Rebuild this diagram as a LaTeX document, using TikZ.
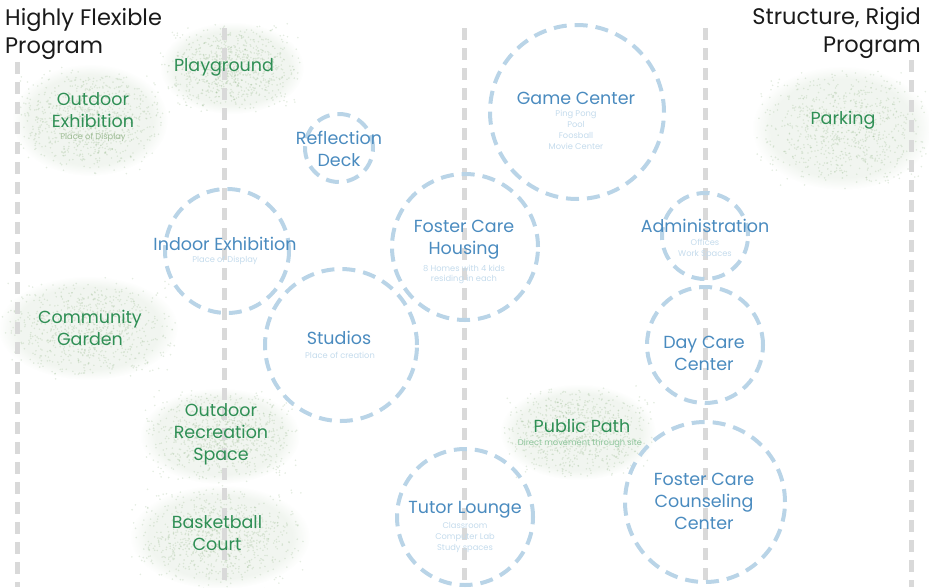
\documentclass[tikz,border=0pt]{standalone}
\usepackage{fontspec}
\setmainfont{Poppins}
\usetikzlibrary{fadings}
\definecolor{ringc}{HTML}{B9D4E7}
\definecolor{bluet}{HTML}{4A8BBF}
\definecolor{subt}{HTML}{C4DBEC}
\definecolor{greent}{HTML}{2F8F55}
\definecolor{gsubt}{HTML}{8CC49A}
\definecolor{blobc}{HTML}{9DBB94}
\definecolor{guidec}{HTML}{D9D9D9}
\definecolor{ttlc}{HTML}{1A1A1A}
\tikzset{
  guide/.style={guidec,line width=5pt,dash pattern=on 12pt off 8pt},
  zone/.style={circle,draw=ringc,line width=4pt,dash pattern=on 13pt off 8pt,inner sep=0pt},
  lbl/.style={font=\fontsize{17.5}{22}\selectfont,text=bluet,align=center,inner sep=0pt},
  glbl/.style={lbl,text=greent},
  sub/.style={font=\fontsize{8.3}{11}\selectfont,text=subt,align=center,inner sep=0pt},
  gsub/.style={sub,text=gsubt},
  ttl/.style={font=\fontsize{22.5}{28}\selectfont,text=ttlc,inner sep=0pt}
}
% fuzzy green patch: centre x, centre y, half width, half height
\newcommand{\fuzz}[4]{%
  \fill[blobc,opacity=.14,path fading=circle with fuzzy edge 20 percent] (#1,#2) ellipse ({#3} and {#4});
  \foreach \i in {1,...,900}{
    \pgfmathsetmacro{\px}{#1+#3*(0.55*rand+0.45*rand)}
    \pgfmathsetmacro{\py}{#2+#4*(0.55*rand+0.45*rand)}
    \fill[blobc,opacity=.28] (\px,\py) circle (0.9);}}

\begin{document}
\begin{tikzpicture}[x=1pt,y=-1pt]
\useasboundingbox (0,0) rectangle (929,587);
\pgfmathsetseed{7}
\fuzz{90}{120}{78}{56}
\fuzz{232}{68}{72}{46}
\fuzz{88}{328}{90}{52}
\fuzz{220}{436}{80}{48}
\fuzz{220}{537}{90}{52}
\fuzz{578}{432}{78}{48}
\fuzz{842}{128}{90}{62}
% programme axis
\foreach \x/\ya in {17/62,224/28,464/28,705/28,911/60}{\draw[guide] (\x,\ya)--(\x,587);}
% dashed zones
\foreach \n/\x/\y/\r in {game/577/112/87,deck/339/148/34,indoor/227/251/62,housing/465/247/73,
  admin/705/236/43,studio/341/345/76,daycare/705/345/58,counsel/705/502/80,tutor/465/517/68}{
  \node[zone,minimum size={2*\r pt}] (\n) at (\x,\y) {};}
% titles
\node[ttl,anchor=west,align=left] (flex) at (5,34) {Highly Flexible\\Program};
\node[ttl,anchor=east,align=right] (rigid) at (921,32.5) {Structure, Rigid\\Program};
% zone labels
\node[lbl] (gameT) at (576,98) {Game Center};
\node[sub] (gameS) at (576,130) {Ping Pong\\Pool\\Foosball\\Movie Center};
\node[lbl] (deckT) at (339,149) {Reflection\\Deck};
\node[lbl] (indoorT) at (225,244) {Indoor Exhibition};
\node[sub] (indoorS) at (225,260) {Place of Display};
\node[lbl] (housingT) at (464,240) {Foster Care\\Housing};
\node[sub,font=\fontsize{8.3}{10}\selectfont] (housingS) at (464,274) {8 Homes with 4 kids\\residing in each};
\node[lbl] (adminT) at (705,226) {Administration};
\node[sub] (adminS) at (705,249) {Offices\\Work Spaces};
\node[lbl] (studioT) at (339,338) {Studios};
\node[sub] (studioS) at (340,355) {Place of creation};
\node[lbl] (daycareT) at (704,353) {Day Care\\Center};
\node[lbl] (counselT) at (704,501.5) {Foster Care\\Counseling\\Center};
\node[lbl] (tutorT) at (465,510) {Tutor Lounge};
\node[sub] (tutorS) at (465,537) {Classroom\\Computer Lab\\Study spaces};
% outdoor labels
\node[glbl] (exhibT) at (93,110) {Outdoor\\Exhibition};
\node[gsub,text=blobc] (exhibS) at (93,137) {Place of Display};
\node[glbl] (playT) at (224,67) {Playground};
\node[glbl] (gardenT) at (90,328) {Community\\Garden};
\node[glbl] (recT) at (221,434.5) {Outdoor\\Recreation\\Space};
\node[glbl] (courtT) at (217,533) {Basketball\\Court};
\node[glbl] (pathT) at (582,426) {Public Path};
\node[gsub] (pathS) at (580,443) {Direct movement through site};
\node[glbl] (parkT) at (843,120) {Parking};
\end{tikzpicture}
\end{document}
